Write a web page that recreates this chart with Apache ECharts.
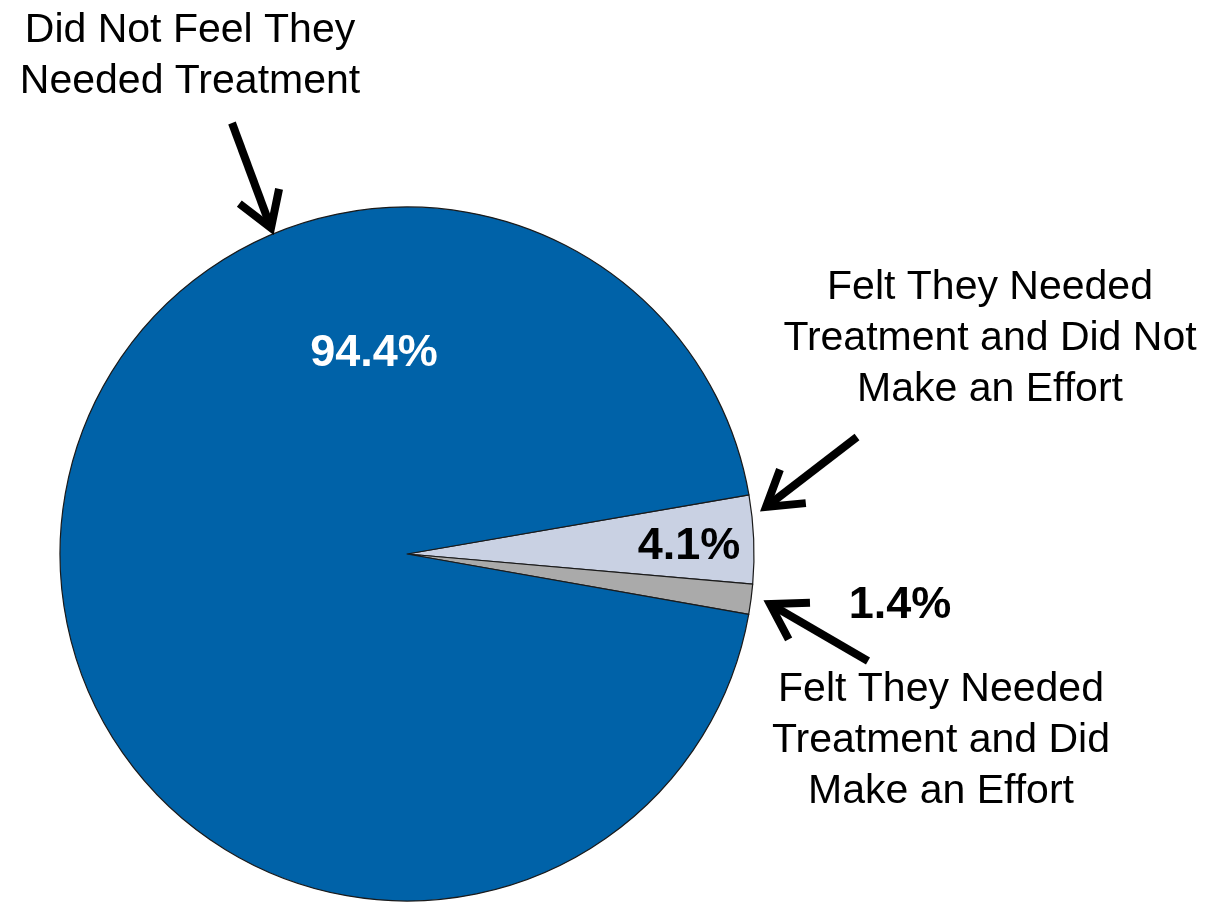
<!DOCTYPE html>
<html>
<head>
<meta charset="utf-8">
<script src="https://cdn.jsdelivr.net/npm/echarts@6/dist/echarts.min.js"></script>
<style>
html,body{margin:0;padding:0;background:#fff;}
#chart{width:1210px;height:906px;}
</style>
</head>
<body>
<div id="chart"></div>
<script>
// Data
const categories = [
  'Felt They Needed\nTreatment and Did Not\nMake an Effort',
  'Felt They Needed\nTreatment and Did\nMake an Effort',
  'Did Not Feel They\nNeeded Treatment'
];
const values = [4.1, 1.4, 94.4];
const colors = ['#C9D1E3', '#AAAAAA', '#0062A8'];
const labelColors = ['#000000', '#000000', '#FFFFFF'];

// Layout (annotation placement)
const pctLabelPos = [[689, 547], [900, 606], [374, 354]];
const nameLabelPos = [[990, 339], [941, 741], [190, 56]];
const arrows = [
  [[857, 437], [766, 507]],
  [[868, 661], [770, 604]],
  [[232, 123], [271, 228]]
];

const FONT = '"Liberation Sans", Arial, Helvetica, sans-serif';

function arrowGraphic(tail, tip) {
  const dx = tip[0] - tail[0], dy = tip[1] - tail[1];
  const len = Math.sqrt(dx * dx + dy * dy);
  const ux = dx / len, uy = dy / len;
  const bl = 40, ang = 32 * Math.PI / 180;
  const c = Math.cos(ang), s = Math.sin(ang);
  // rotate back-direction by ±ang
  const bx = -ux, by = -uy;
  const b1 = [tip[0] + bl * (bx * c - by * s), tip[1] + bl * (bx * s + by * c)];
  const b2 = [tip[0] + bl * (bx * c + by * s), tip[1] + bl * (-bx * s + by * c)];
  return [
    {type: 'polyline', shape: {points: [tail, tip]}, style: {stroke: '#000', lineWidth: 8, lineCap: 'butt'}, z: 100},
    {type: 'polyline', shape: {points: [b1, tip, b2]}, style: {stroke: '#000', lineWidth: 8, lineJoin: 'miter', lineCap: 'butt', fill: null}, z: 100}
  ];
}

const graphics = [];
categories.forEach((name, i) => {
  graphics.push({
    type: 'text', z: 100,
    style: {
      text: name, x: nameLabelPos[i][0], y: nameLabelPos[i][1],
      align: 'center', verticalAlign: 'middle',
      font: '41px ' + FONT, lineHeight: 51, fill: '#000'
    }
  });
});
arrows.forEach(a => arrowGraphic(a[0], a[1]).forEach(g => graphics.push(g)));

const chart = echarts.init(document.getElementById('chart'), null, {renderer: 'canvas'});
chart.setOption({
  animation: false,
  backgroundColor: '#ffffff',
  graphic: graphics,
  series: [{
    type: 'pie',
    center: [407, 554],
    radius: 347,
    startAngle: 9.8,
    clockwise: true,
    avoidLabelOverlap: false,
    data: values.map((v, i) => ({
      name: categories[i], value: v,
      itemStyle: {color: colors[i]},
      label: {color: labelColors[i]}
    })),
    itemStyle: {borderColor: '#1a1a1a', borderWidth: 1.2},
    label: {
      show: true,
      formatter: p => p.value.toFixed(1) + '%',
      fontFamily: FONT, fontWeight: 'bold', fontSize: 45
    },
    labelLine: {show: false},
    labelLayout: function (params) {
      const p = pctLabelPos[params.dataIndex];
      return {x: p[0], y: p[1], align: 'center', verticalAlign: 'middle'};
    },
    emphasis: {disabled: true}
  }]
});
</script>
</body>
</html>
